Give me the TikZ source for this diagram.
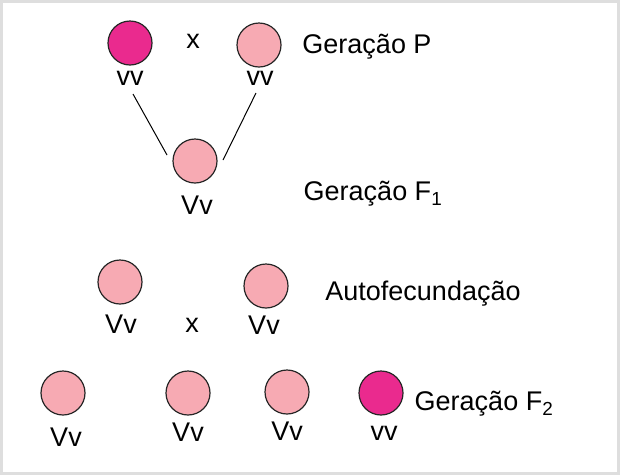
\documentclass[tikz,border=0pt]{standalone}
\usepackage{fontspec}
\setmainfont{Liberation Sans}
\definecolor{rosaescuro}{RGB}{234,42,142}
\definecolor{rosaclaro}{RGB}{247,170,179}
\tikzset{
  escura/.style={circle,draw=black!85,line width=1.2pt,fill=rosaescuro,
    minimum size=44pt,inner sep=0pt},
  clara/.style={escura,fill=rosaclaro},
  txt/.style={inner sep=0pt,font=\fontsize{27}{31}\selectfont},
}
\begin{document}
\begin{tikzpicture}[x=1pt,y=-1pt]
\useasboundingbox (0,0) rectangle (620,475);
\draw[black!13,line width=2.5pt] (1.5,1.5) rectangle (618.5,473.5);

% geracao P
\node[escura] (p1) at (130,43) {};
\node[clara] (p2) at (259,45) {};
\node[txt] (cruzP) at (193,41) {x};
\node[txt] (gp1) at (130,78) {vv};
\node[txt] (gp2) at (260,78) {vv};
\node[txt] (lblP) at (367,47) {Geração P};

% geracao F1
\node[clara] (f1) at (195,161) {};
\node[txt] (gf1) at (197,205) {Vv};
\node[txt] (lblF1) at (373,194) {Geração F\textsubscript{1}};
\coordinate (e1) at (133,94);
\coordinate (e2) at (167,155);
\coordinate (d1) at (256,93);
\coordinate (d2) at (223,160);
\draw[line width=1pt] (e1) -- (e2);
\draw[line width=1pt] (d1) -- (d2);

% autofecundacao
\node[clara] (a1) at (120,282) {};
\node[clara] (a2) at (266,286) {};
\node[txt] (ga1) at (121,324) {Vv};
\node[txt] (cruzA) at (192,325) {x};
\node[txt] (ga2) at (264,325) {Vv};
\node[txt] (lblA) at (423,294) {Autofecundação};

% geracao F2
\node[clara] (f2a) at (63,393) {};
\node[clara] (f2b) at (188,393) {};
\node[clara] (f2c) at (287,392) {};
\node[escura] (f2d) at (381,393) {};
\node[txt] (g2a) at (66,437) {Vv};
\node[txt] (g2b) at (188,432) {Vv};
\node[txt] (g2c) at (287,431) {Vv};
\node[txt] (g2d) at (384,433) {vv};
\node[txt] (lblF2) at (484,404) {Geração F\textsubscript{2}};
\end{tikzpicture}
\end{document}
